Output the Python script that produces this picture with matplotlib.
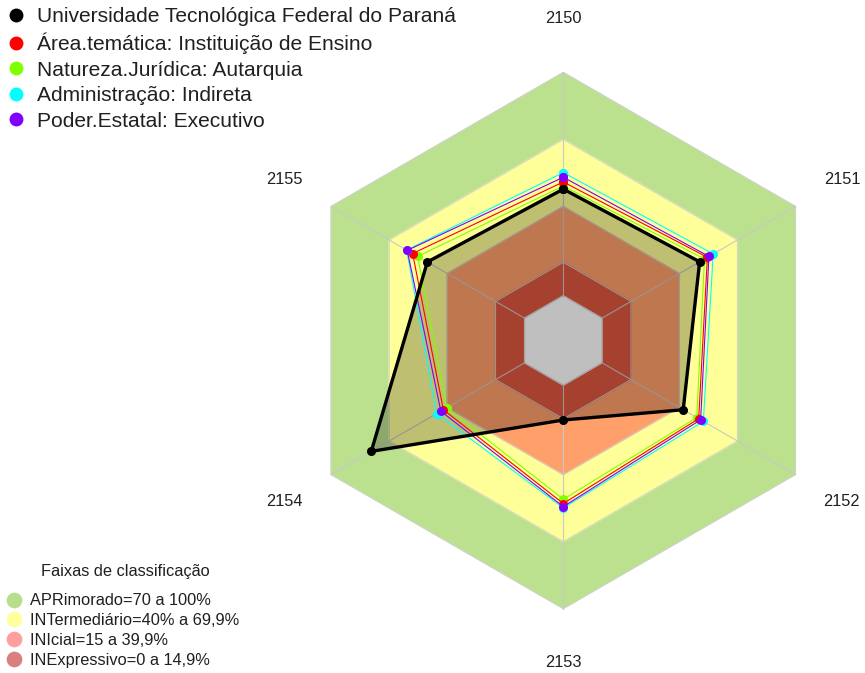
import numpy as np
import matplotlib.pyplot as plt
from matplotlib.lines import Line2D

plt.rcParams['font.family'] = ['Liberation Sans', 'DejaVu Sans']

# eixos do radar (sentido horário a partir do topo)
categorias = ['2150', '2151', '2152', '2153', '2154', '2155']

# valores em %
utfpr = [47.8, 50.5, 42.0, 15.6, 79.3, 50.3]
area_tematica = [51.0, 54.5, 50.0, 53.0, 42.0, 57.9]
natureza_juridica = [49.2, 53.0, 49.0, 51.1, 40.3, 55.3]
administracao = [55.2, 57.5, 52.4, 55.0, 45.5, 61.0]
poder_estatal = [53.1, 55.3, 51.0, 54.4, 43.3, 60.7]

series_nomes = ['Universidade Tecnológica Federal do Paraná',
                'Área.temática: Instituição de Ensino',
                'Natureza.Jurídica: Autarquia',
                'Administração: Indireta',
                'Poder.Estatal: Executivo']
series_cores = ['#000000', '#FF0000', '#80FF00', '#00FFFF', '#8000FF']

# faixas de classificação
faixas_limites = [100, 70, 40, 15, 0]
faixas_cores = ['#BBE18F', '#FFFF99', '#FFA06A', '#E0573F', '#FFFFFF']
faixas_nomes = ['APRimorado=70 a 100%', 'INTermediário=40% a 69,9%',
                'INIcial=15 a 39,9%', 'INExpressivo=0 a 14,9%']
faixas_leg_cores = ['#B7DE8C', '#FFFF9E', '#FF9E9E', '#D88080']

n = len(categorias)
ang = np.radians(np.arange(n) * 360 / n)


def raio(v):
    # centro deslocado como no fmsb (seg=5)
    return 1 / 6 + 5 / 6 * np.asarray(v, dtype=float) / 100


def xy(v):
    r = raio(v)
    x = r * np.sin(ang)
    y = r * np.cos(ang)
    return np.append(x, x[0]), np.append(y, y[0])


W, H = 865, 673
cx, cy, R = 563.3, 340.5, 268.0
fig = plt.figure(figsize=(W / 100, H / 100), dpi=100)
ax = fig.add_axes([0, 0, 1, 1])
ax.set_xlim(-cx / R, (W - cx) / R)
ax.set_ylim(-(H - cy) / R, cy / R)
ax.set_aspect('equal')
ax.axis('off')

# faixas
for lim, cor in zip(faixas_limites, faixas_cores):
    x, y = xy([lim] * n)
    ax.fill(x, y, color=cor, zorder=1)
    ax.plot(x, y, color='#D0D0D0', lw=0.7, zorder=2)

# eixos
r0, r1 = raio(0), raio(100)
for a in ang:
    ax.plot([r0 * np.sin(a), r1 * np.sin(a)], [r0 * np.cos(a), r1 * np.cos(a)],
            color='#C8C8C8', lw=0.8, zorder=2)

# séries
valores = [utfpr, area_tematica, natureza_juridica, administracao, poder_estatal]
ordem = [2, 1, 3, 4]
for i in ordem:
    x, y = xy(valores[i])
    ax.plot(x, y, color=series_cores[i], lw=0.8, marker='o', markersize=6.5,
            markeredgewidth=0, zorder=4)

x, y = xy(utfpr)
ax.fill(x, y, color='black', alpha=0.25, lw=0, zorder=3)
ax.plot(x, y, color='black', lw=2.4, marker='o', markersize=5.5, zorder=5)

# rótulos dos eixos
for a, cat in zip(ang, categorias):
    ax.text(1.2 * np.sin(a), 1.2 * np.cos(a), cat, ha='center', va='center',
            fontsize=11.8, color='#202020')

# legenda das séries
hs = [Line2D([], [], ls='', marker='o', markersize=10, color=c, markeredgewidth=0)
      for c in series_cores]
leg1 = ax.legend(hs, series_nomes, loc='upper left', bbox_to_anchor=(5 / W, 1 - 7 / H),
                 bbox_transform=fig.transFigure, frameon=False, fontsize=15.1,
                 handlelength=1.02, handletextpad=0.52, labelspacing=0.31,
                 borderaxespad=0, borderpad=0)
for t in leg1.get_texts():
    t.set_color('#202020')
ax.add_artist(leg1)

# legenda das faixas
hf = [Line2D([], [], ls='', marker='o', markersize=11.3, color=c, markeredgewidth=0)
      for c in faixas_leg_cores]
leg2 = ax.legend(hf, faixas_nomes, loc='lower left', bbox_to_anchor=(3 / W, 5.3 / H),
                 bbox_transform=fig.transFigure, frameon=False, fontsize=11.8,
                 handlelength=1.34, handletextpad=0.3, labelspacing=0.29,
                 borderaxespad=0, borderpad=0)
for t in leg2.get_texts():
    t.set_color('#202020')
fig.text(125 / W, 1 - 571.7 / H, 'Faixas de classificação', ha='center', va='center',
         fontsize=11.8, color='#202020')

fig.savefig('out.png', dpi=100)
